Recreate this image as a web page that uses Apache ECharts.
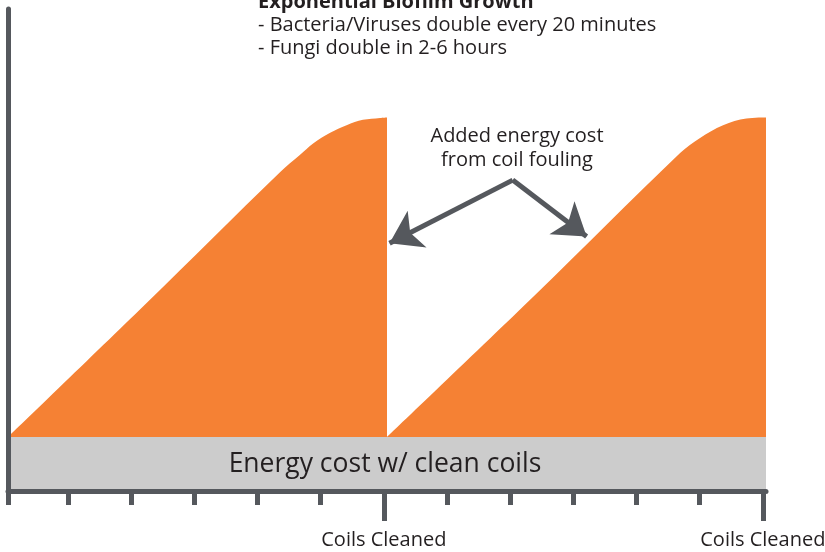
<!DOCTYPE html>
<html>
<head>
<meta charset="utf-8">
<script src="https://cdn.jsdelivr.net/npm/echarts@6/dist/echarts.min.js"></script>
<style>html,body{margin:0;padding:0;background:#fff}#c{width:825px;height:552px}</style>
</head>
<body>
<div id="c"></div>
<script>
// ---- data ----
const cleanBaseline = [[0, 11.2], [12, 11.2]];
const cycle1 = [[0, 11.2], [2.17, 38.7], [4.31, 66.2], [4.62, 69.7], [4.83, 72.1], [5.1, 74.3], [5.36, 75.9], [5.62, 77.0], [5.89, 77.4], [6.0, 77.5]];
const cycle2 = [[6.0, 11.2], [8.34, 40.6], [10.64, 70.1], [10.95, 73.2], [11.32, 75.9], [11.69, 77.3], [12.0, 77.5]];
const minorTicks = [1, 2, 3, 4, 5, 7, 8, 9, 10, 11];
const cleanedAt = [6, 12];
const cleanedLabel = 'Coils Cleaned';
const bandLabel = 'Energy cost w/ clean coils';
const titleLines = ['Exponential Biofilm Growth', '- Bacteria/Viruses double every 20 minutes', '- Fungi double in 2-6 hours'];
const calloutLines = ['Added energy cost', 'from coil fouling'];
const arrowFrom = [7.99, 64.5];
const arrowTo = [[6.04, 51.4], [9.16, 52.8]];

const ORANGE = '#f58134', GRAY = '#cccccc', AXIS = '#55585d', TXT = '#231f20';
const FONT = '"Open Sans", "Noto Sans", sans-serif';

const tickAxis = (vals, len, withLabel) => ({
  type: 'value', min: 0.05, max: 12.05, position: 'bottom', z: 10,
  axisLine: {show: false},
  axisTick: {show: true, length: len, customValues: vals, lineStyle: {color: AXIS, width: 5}},
  axisLabel: withLabel
    ? {show: true, customValues: vals, formatter: () => cleanedLabel, margin: 39, color: TXT, fontSize: 20, fontFamily: FONT, hideOverlap: false}
    : {show: false},
  splitLine: {show: false}
});

const chart = echarts.init(document.getElementById('c'), null, {renderer: 'canvas'});
chart.setOption({
  animation: false,
  grid: {left: 8, right: 59, top: 9, bottom: 61, outerBoundsMode: 'none', containLabel: false},
  xAxis: [
    {type: 'value', min: 0, max: 12, z: 10,
     axisLine: {show: true, lineStyle: {color: AXIS, width: 5}},
     axisTick: {show: true, length: 14, customValues: [0], lineStyle: {color: AXIS, width: 5}},
     axisLabel: {show: false}, splitLine: {show: false}},
    tickAxis(minorTicks, 14, false),
    tickAxis(cleanedAt, 30, true)
  ],
  yAxis: {type: 'value', min: 0, max: 100, z: 10,
    axisLine: {show: true, lineStyle: {color: AXIS, width: 5}},
    axisTick: {show: false}, axisLabel: {show: false}, splitLine: {show: false}},
  series: [
    {type: 'line', data: cycle1, symbol: 'none', smooth: 0.35, lineStyle: {width: 0}, areaStyle: {color: ORANGE, opacity: 1}, z: 2},
    {type: 'line', data: cycle2, symbol: 'none', smooth: 0.35, lineStyle: {width: 0}, areaStyle: {color: ORANGE, opacity: 1}, z: 2},
    {type: 'line', data: cleanBaseline, symbol: 'none', lineStyle: {width: 0}, areaStyle: {color: GRAY, opacity: 1}, z: 3,
     markLine: {silent: true, symbol: ['none', 'arrow'], symbolSize: [31, 31], animation: false,
       label: {show: false}, lineStyle: {color: AXIS, width: 5, type: 'solid'},
       emphasis: {disabled: true},
       data: arrowTo.map(t => [{coord: arrowFrom}, {coord: t}])}}
  ],
  graphic: [
    {type: 'text', left: 258, top: -8, style: {text: titleLines[0], font: 'bold 20px ' + FONT, fill: TXT}},
    {type: 'text', left: 258, top: 15, style: {text: titleLines[1], font: '20px ' + FONT, fill: TXT}},
    {type: 'text', left: 258, top: 38, style: {text: titleLines[2], font: '20px ' + FONT, fill: TXT}},
    {type: 'text', x: 517, y: 136, style: {text: calloutLines[0], font: '20px ' + FONT, fill: TXT, align: 'center', verticalAlign: 'middle'}},
    {type: 'text', x: 517, y: 160, style: {text: calloutLines[1], font: '20px ' + FONT, fill: TXT, align: 'center', verticalAlign: 'middle'}},
    {type: 'text', x: 385, y: 464, z: 20, style: {text: bandLabel, font: '26.5px ' + FONT, fill: TXT, align: 'center', verticalAlign: 'middle'}}
  ]
});
</script>
</body>
</html>
